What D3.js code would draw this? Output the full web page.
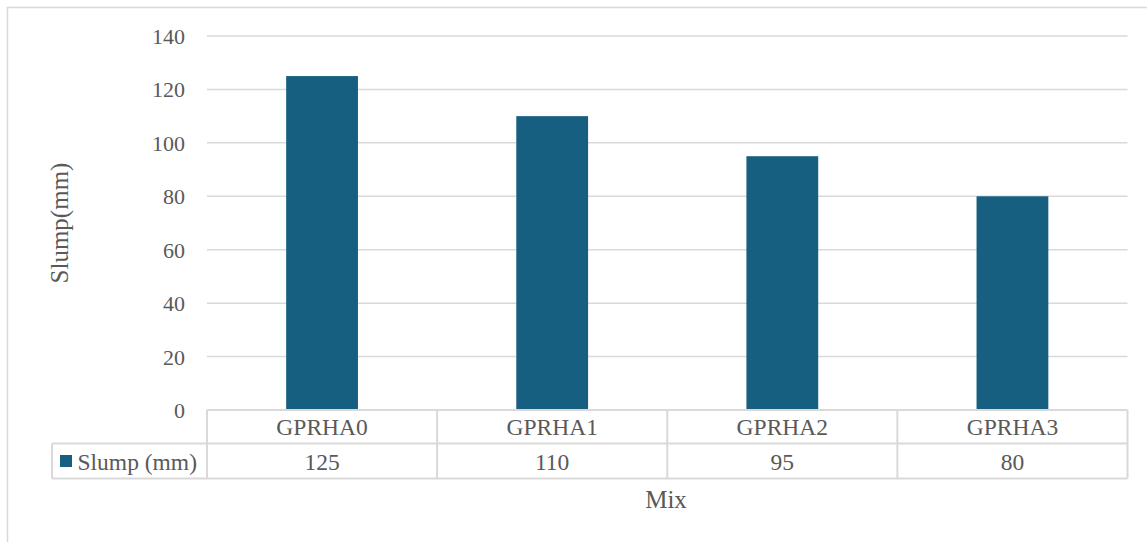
<!DOCTYPE html>
<html>
<head>
<meta charset="utf-8">
<script src="https://cdn.jsdelivr.net/npm/d3@7"></script>
</head>
<body style="margin:0">
<svg id="s" width="1147" height="542" font-family="Liberation Serif, Times New Roman, monospace" style="font-family: 'Liberation Serif', 'Times New Roman', monospace"></svg>
<script>
// Slump test results per mix
const categories = ["GPRHA0", "GPRHA1", "GPRHA2", "GPRHA3"];
const slumpValues = [125, 110, 95, 80];
const seriesName = "Slump (mm)";
const yTicks = [0, 20, 40, 60, 80, 100, 120, 140];

const W = 1147, H = 542;
const svg = d3.select("#s");

const plot = { left: 207, right: 1127.5, top: 36, bottom: 410 };
const gridColor = "#d9d9d9";
const barColor = "#175f80";
const textColor = "#595959";

// outer chart frame
svg.append("rect")
  .attr("x", 7.5).attr("y", 7.5)
  .attr("width", W + 10).attr("height", H + 10)
  .attr("fill", "none").attr("stroke", gridColor).attr("stroke-width", 1.5);

const x = d3.scaleBand().domain(categories)
  .range([plot.left, plot.right]).paddingInner(0).paddingOuter(0);
const y = d3.scaleLinear().domain([0, 140]).range([plot.bottom, plot.top]);

// horizontal gridlines
svg.append("g").selectAll("line").data(yTicks.filter(d => d > 0)).join("line")
  .attr("x1", plot.left).attr("x2", plot.right)
  .attr("y1", d => y(d)).attr("y2", d => y(d))
  .attr("stroke", gridColor).attr("stroke-width", 1.5);

// y tick labels
svg.append("g").selectAll("text").data(yTicks).join("text")
  .attr("x", 185).attr("y", d => y(d) + 8)
  .attr("text-anchor", "end")
  .attr("font-size", 22).attr("fill", textColor)
  .text(d => d);

// bars
const barW = x.bandwidth() * 0.312;
svg.append("g").selectAll("rect").data(slumpValues).join("rect")
  .attr("x", (d, i) => x(categories[i]) + x.bandwidth() / 2 - barW / 2)
  .attr("width", barW)
  .attr("y", d => y(d))
  .attr("height", d => y(0) - y(d))
  .attr("fill", barColor);

// data table below the plot
const rowTop = plot.bottom, rowMid = 443.5, rowBot = 478.5;
const legendLeft = 52;
const tbl = svg.append("g").attr("stroke", gridColor).attr("stroke-width", 2).attr("fill", "none");
tbl.append("line").attr("x1", plot.left).attr("x2", plot.right).attr("y1", rowTop).attr("y2", rowTop);
tbl.append("line").attr("x1", legendLeft).attr("x2", plot.right).attr("y1", rowMid).attr("y2", rowMid);
tbl.append("line").attr("x1", legendLeft).attr("x2", plot.right).attr("y1", rowBot).attr("y2", rowBot);
tbl.append("line").attr("x1", legendLeft).attr("x2", legendLeft).attr("y1", rowMid).attr("y2", rowBot);
const colEdges = categories.map(c => x(c)).concat([plot.right]);
tbl.selectAll("line.col").data(colEdges).join("line").attr("class", "col")
  .attr("x1", d => d).attr("x2", d => d).attr("y1", rowTop).attr("y2", rowBot);

// category row
svg.append("g").selectAll("text").data(categories).join("text")
  .attr("x", d => x(d) + x.bandwidth() / 2)
  .attr("y", 434.5)
  .attr("text-anchor", "middle").attr("font-size", 23.5).attr("fill", textColor)
  .text(d => d);

// value row
svg.append("g").selectAll("text").data(slumpValues).join("text")
  .attr("x", (d, i) => x(categories[i]) + x.bandwidth() / 2)
  .attr("y", 469.5)
  .attr("text-anchor", "middle").attr("font-size", 23.5).attr("fill", textColor)
  .text(d => d);

// legend key in the table
svg.append("rect").attr("x", 60).attr("y", 455).attr("width", 12).attr("height", 12).attr("fill", barColor);
svg.append("text").attr("x", 77.5).attr("y", 469.5)
  .attr("font-size", 23.5).attr("fill", textColor).text(seriesName);

// axis titles
svg.append("text")
  .attr("transform", `translate(68, ${(plot.top + plot.bottom) / 2}) rotate(-90)`)
  .attr("text-anchor", "middle").attr("font-size", 25).attr("fill", textColor)
  .text("Slump(mm)");

svg.append("text")
  .attr("x", 666).attr("y", 508)
  .attr("text-anchor", "middle").attr("font-size", 25).attr("fill", textColor)
  .text("Mix");
</script>
</body>
</html>
